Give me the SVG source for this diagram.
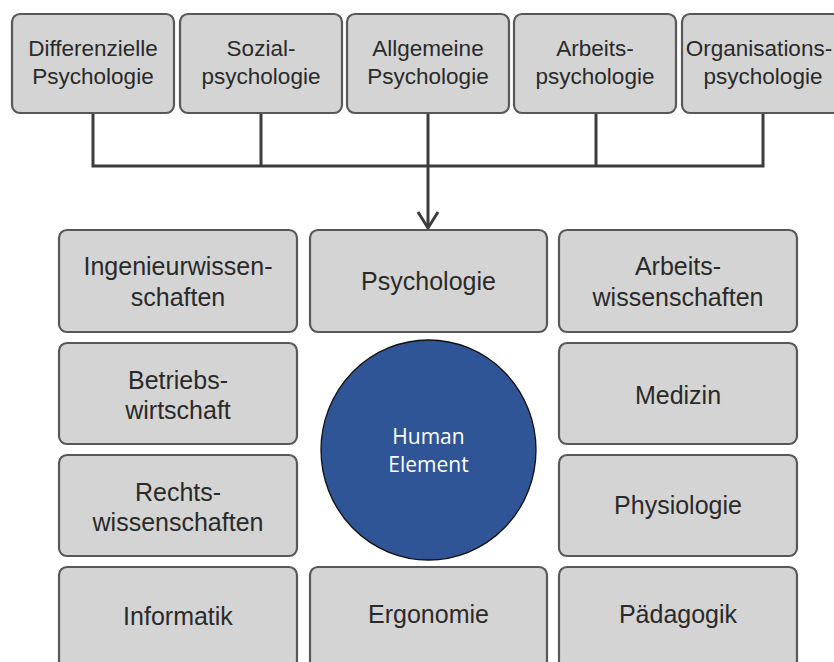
<svg xmlns="http://www.w3.org/2000/svg" width="834" height="662" viewBox="0 0 834 662">
<style>
.box{fill:#d4d4d4;stroke:#585858;stroke-width:2.2}
.t{font-family:"Liberation Sans",Arial,sans-serif;fill:#2a2a2a;text-anchor:middle}
.top{font-size:22.5px}
.mid{font-size:25px}
.con{stroke:#3c3c3c;stroke-width:3;fill:none}
.ht{font-family:"Open Sans","Noto Sans",sans-serif;font-size:21px;fill:#ffffff;text-anchor:middle}
</style>
<rect width="834" height="662" fill="#ffffff"/>
<g id="connectors">
<path class="con" d="M93,113 V166 M261,113 V166 M596,113 V166 M763,113 V166 M91.5,166 H764.5 M428,113 V227"/>
<path class="con" d="M418,212 L428,228 L438,212" stroke-linejoin="miter"/>
</g>
<g id="n-differenzielle"><rect class="box" x="12" y="14" width="162" height="99" rx="8"/><text class="t top" x="93" y="56">Differenzielle</text><text class="t top" x="93" y="84">Psychologie</text></g>
<g id="n-sozial"><rect class="box" x="180" y="14" width="162" height="99" rx="8"/><text class="t top" x="261" y="56">Sozial-</text><text class="t top" x="261" y="84">psychologie</text></g>
<g id="n-allgemeine"><rect class="box" x="347" y="14" width="162" height="99" rx="8"/><text class="t top" x="428" y="56">Allgemeine</text><text class="t top" x="428" y="84">Psychologie</text></g>
<g id="n-arbeitspsych"><rect class="box" x="514" y="14" width="162" height="99" rx="8"/><text class="t top" x="595" y="56">Arbeits-</text><text class="t top" x="595" y="84">psychologie</text></g>
<g id="n-organisations"><rect class="box" x="682" y="14" width="162" height="99" rx="8"/><text class="t top" x="759" y="56">Organisations-</text><text class="t top" x="763" y="84">psychologie</text></g>

<g id="n-ingenieur"><rect class="box" x="59" y="230" width="238" height="102" rx="8"/><text class="t mid" x="178" y="275">Ingenieurwissen-</text><text class="t mid" x="178" y="306">schaften</text></g>
<g id="n-psychologie"><rect class="box" x="310" y="230" width="237" height="102" rx="8"/><text class="t mid" x="428.5" y="290">Psychologie</text></g>
<g id="n-arbeitswiss"><rect class="box" x="559" y="230" width="238" height="102" rx="8"/><text class="t mid" x="678" y="275">Arbeits-</text><text class="t mid" x="678" y="306">wissenschaften</text></g>

<g id="n-betriebs"><rect class="box" x="59" y="343" width="238" height="101" rx="8"/><text class="t mid" x="178" y="389">Betriebs-</text><text class="t mid" x="178" y="419">wirtschaft</text></g>
<g id="n-medizin"><rect class="box" x="559" y="343" width="238" height="101" rx="8"/><text class="t mid" x="678" y="404">Medizin</text></g>

<g id="n-rechts"><rect class="box" x="59" y="455" width="238" height="101" rx="8"/><text class="t mid" x="178" y="501">Rechts-</text><text class="t mid" x="178" y="531">wissenschaften</text></g>
<g id="n-physiologie"><rect class="box" x="559" y="455" width="238" height="101" rx="8"/><text class="t mid" x="678" y="514">Physiologie</text></g>

<g id="n-informatik"><rect class="box" x="59" y="567" width="238" height="102" rx="8"/><text class="t mid" x="178" y="625">Informatik</text></g>
<g id="n-ergonomie"><rect class="box" x="310" y="567" width="237" height="102" rx="8"/><text class="t mid" x="428.5" y="623">Ergonomie</text></g>
<g id="n-paedagogik"><rect class="box" x="559" y="567" width="238" height="102" rx="8"/><text class="t mid" x="678" y="623">Pädagogik</text></g>

<g id="n-human"><ellipse cx="428.5" cy="450" rx="107.5" ry="110" fill="#2f5597" stroke="#111111" stroke-width="1.3"/><text class="ht" x="428.5" y="444">Human</text><text class="ht" x="428.5" y="472">Element</text></g>
</svg>
